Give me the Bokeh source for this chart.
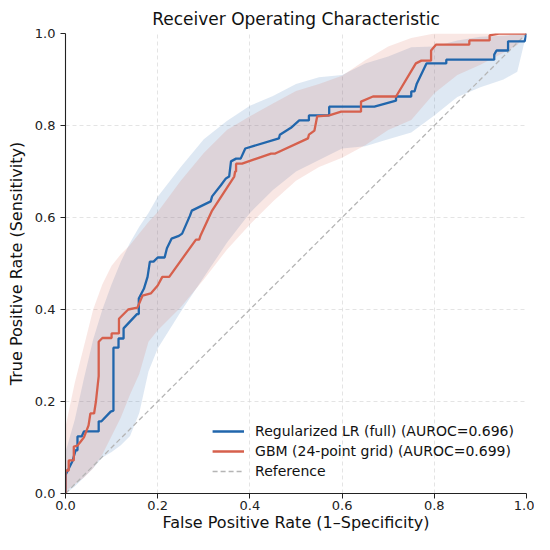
from bokeh.plotting import figure
from bokeh.embed import file_html
from bokeh.resources import INLINE
from bokeh.models import Legend, LegendItem, Range1d, FixedTicker, PrintfTickFormatter

# ---- data ----
lr_fpr = [0, 0, 0.015, 0.022, 0.026, 0.026, 0.035, 0.04, 0.072, 0.072, 0.078, 0.098, 0.104, 0.104,
          0.115, 0.115, 0.126, 0.126, 0.155, 0.159, 0.159, 0.17, 0.178, 0.183, 0.191, 0.2, 0.215,
          0.22, 0.23, 0.246, 0.253, 0.27, 0.274, 0.315, 0.318, 0.337, 0.348, 0.355, 0.359, 0.37,
          0.38, 0.39, 0.463, 0.465, 0.489, 0.507, 0.528, 0.528, 0.572, 0.572, 0.67, 0.717, 0.717,
          0.75, 0.75, 0.757, 0.762, 0.783, 0.826, 0.826, 0.93, 0.93, 0.935, 0.96, 0.96, 0.996, 1.0]
lr_tpr = [0, 0.04, 0.07, 0.094, 0.094, 0.124, 0.124, 0.135, 0.135, 0.157, 0.157, 0.178, 0.18, 0.317,
          0.317, 0.337, 0.337, 0.359, 0.39, 0.39, 0.424, 0.445, 0.471, 0.504, 0.504, 0.513, 0.513,
          0.533, 0.554, 0.56, 0.565, 0.604, 0.615, 0.635, 0.646, 0.67, 0.685, 0.689, 0.722, 0.728,
          0.728, 0.75, 0.772, 0.78, 0.795, 0.811, 0.811, 0.822, 0.822, 0.841, 0.841, 0.854, 0.863,
          0.863, 0.874, 0.874, 0.891, 0.935, 0.935, 0.943, 0.943, 0.954, 0.963, 0.963, 0.983, 0.983, 1.0]

gbm_fpr = [0, 0, 0.007, 0.007, 0.018, 0.018, 0.026, 0.033, 0.04, 0.05, 0.054, 0.062, 0.066, 0.072,
           0.072, 0.08, 0.1, 0.1, 0.116, 0.116, 0.136, 0.156, 0.167, 0.185, 0.2, 0.21, 0.225, 0.283,
           0.29, 0.293, 0.318, 0.366, 0.368, 0.37, 0.37, 0.383, 0.446, 0.455, 0.526, 0.528, 0.54,
           0.546, 0.572, 0.598, 0.641, 0.641, 0.667, 0.717, 0.76, 0.772, 0.793, 0.793, 0.804, 0.876,
           0.876, 0.92, 0.92, 0.94, 1.0]
gbm_tpr = [0, 0.05, 0.05, 0.072, 0.072, 0.102, 0.104, 0.113, 0.122, 0.148, 0.174, 0.174, 0.2, 0.255,
           0.33, 0.338, 0.338, 0.348, 0.348, 0.38, 0.4, 0.404, 0.43, 0.435, 0.452, 0.471, 0.471, 0.552,
           0.552, 0.561, 0.615, 0.689, 0.7, 0.7, 0.717, 0.717, 0.739, 0.739, 0.772, 0.78, 0.789,
           0.82, 0.822, 0.83, 0.83, 0.852, 0.863, 0.863, 0.935, 0.941, 0.941, 0.963, 0.976, 0.976,
           0.985, 0.985, 0.996, 1.0, 1.0]

band_fpr = [0, 0.02, 0.04, 0.06, 0.08, 0.1, 0.12, 0.14, 0.16, 0.18, 0.2, 0.25, 0.3, 0.35, 0.4,
            0.45, 0.5, 0.55, 0.6, 0.65, 0.7, 0.75, 0.8, 0.85, 0.9, 0.95, 0.98, 1.0]
lr_lower = [0.0, 0.015, 0.035, 0.055, 0.078, 0.09, 0.105, 0.125, 0.175, 0.265, 0.315, 0.395, 0.47,
            0.545, 0.61, 0.66, 0.7, 0.725, 0.75, 0.755, 0.77, 0.785, 0.822, 0.862, 0.883, 0.9, 0.917, 1.0]
lr_upper = [0.09, 0.16, 0.25, 0.335, 0.4, 0.455, 0.504, 0.545, 0.58, 0.61, 0.645, 0.71, 0.77,
            0.81, 0.843, 0.864, 0.89, 0.905, 0.91, 0.935, 0.95, 0.97, 0.972, 0.985, 0.993, 0.995, 0.998, 1.0]
gbm_lower = [0.005, 0.02, 0.035, 0.055, 0.085, 0.125, 0.165, 0.215, 0.26, 0.33, 0.355, 0.405, 0.465,
             0.53, 0.585, 0.635, 0.68, 0.71, 0.73, 0.757, 0.79, 0.812, 0.87, 0.91, 0.932, 0.958, 0.975, 1.0]
gbm_upper = [0.145, 0.24, 0.32, 0.4, 0.455, 0.495, 0.52, 0.54, 0.565, 0.59, 0.612, 0.68, 0.74, 0.79,
             0.82, 0.848, 0.875, 0.89, 0.908, 0.942, 0.972, 0.99, 1.0, 1.0, 1.0, 1.0, 1.0, 1.0]

ref_x = [0, 1]
ref_y = [0, 1]

labels = ["Regularized LR (full) (AUROC=0.696)", "GBM (24-point grid) (AUROC=0.699)", "Reference"]
ticks = [0, 0.2, 0.4, 0.6, 0.8, 1.0]

BLUE = "#2166ac"
RED = "#d6604d"
FONT = "DejaVu Sans"

p = figure(width=534, height=534, output_backend="svg", toolbar_location=None,
           x_range=Range1d(0, 1), y_range=Range1d(0, 1),
           min_border_left=65, min_border_right=8, min_border_top=33, min_border_bottom=40,
           title="Receiver Operating Characteristic")
p.outline_line_color = None
p.background_fill_color = "white"

p.title.align = "center"
p.title.text_font = FONT
p.title.text_font_size = "17px"
p.title.text_font_style = "normal"
p.title.text_color = "#111111"
p.title.standoff = 9

for ax in (p.xaxis[0], p.yaxis[0]):
    ax.ticker = FixedTicker(ticks=ticks)
    ax.formatter = PrintfTickFormatter(format="%.1f")
    ax.minor_tick_line_color = None
    ax.major_tick_in = 0
    ax.major_tick_out = 5
    ax.major_label_text_font = FONT
    ax.major_label_text_font_size = "13px"
    ax.major_label_text_color = "#222222"
    ax.axis_label_text_font = FONT
    ax.axis_label_text_font_size = "16px"
    ax.axis_label_text_font_style = "normal"
    ax.axis_label_text_color = "#111111"
    ax.axis_line_color = "#222222"
    ax.major_tick_line_color = "#222222"
    ax.axis_line_width = 1.1

p.xaxis.axis_label = "False Positive Rate (1\u2013Specificity)"
p.yaxis.axis_label = "True Positive Rate (Sensitivity)"
p.xaxis.axis_label_standoff = 0
p.yaxis.axis_label_standoff = 6
p.xaxis.major_label_standoff = 2
p.yaxis.major_label_standoff = 5

p.grid.grid_line_color = "#d9d9d9"
p.grid.grid_line_dash = "4 3"
p.grid.grid_line_alpha = 0.7

p.varea(x=band_fpr, y1=lr_lower, y2=lr_upper, fill_color=BLUE, fill_alpha=0.15)
p.varea(x=band_fpr, y1=gbm_lower, y2=gbm_upper, fill_color=RED, fill_alpha=0.15)

r_ref = p.line(ref_x, ref_y, line_color="#b5b5b5", line_width=1.3, line_dash="5 3")
r_lr = p.line(lr_fpr, lr_tpr, line_color=BLUE, line_width=2.3)
r_gbm = p.line(gbm_fpr, gbm_tpr, line_color=RED, line_width=2.3)

legend = Legend(items=[LegendItem(label=labels[0], renderers=[r_lr]),
                       LegendItem(label=labels[1], renderers=[r_gbm]),
                       LegendItem(label=labels[2], renderers=[r_ref])],
                location="bottom_right")
legend.label_text_font = FONT
legend.label_text_font_size = "14px"
legend.label_text_color = "#111111"
legend.glyph_width = 32
legend.glyph_height = 20
legend.label_height = 20
legend.spacing = 0
legend.padding = 4
legend.margin = 12
legend.label_standoff = 11
legend.border_line_color = None
legend.background_fill_alpha = 0.0
p.add_layout(legend, "center")

open("out.html", "w").write(file_html(p, INLINE))
